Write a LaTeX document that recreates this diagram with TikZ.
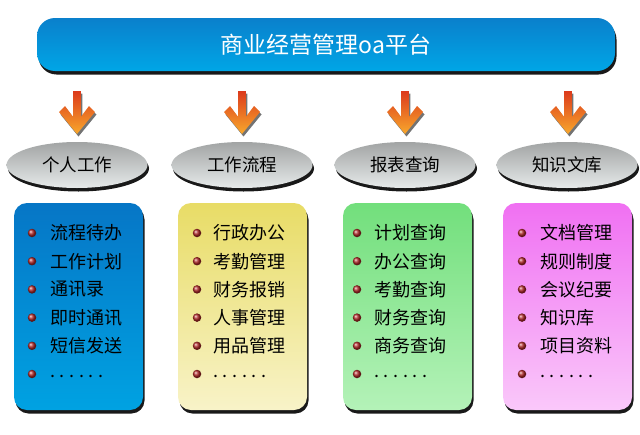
\documentclass[tikz,border=0pt]{standalone}
\usepackage{fontspec}
\newfontfamily\cjk{Noto Sans CJK SC}
\usetikzlibrary{shapes.geometric,shadows}
\definecolor{bartop}{HTML}{0A80CC}
\definecolor{barbot}{HTML}{00A6E6}
\definecolor{bluetop}{HTML}{0676C6}
\definecolor{bluebot}{HTML}{00A2E2}
\definecolor{yeltop}{HTML}{E8DC66}
\definecolor{yelbot}{HTML}{F8F3C8}
\definecolor{grntop}{HTML}{72DF7C}
\definecolor{grnbot}{HTML}{B4F2B8}
\definecolor{pnktop}{HTML}{F070F2}
\definecolor{pnkbot}{HTML}{FAC8FA}
\definecolor{elltop}{HTML}{A2A4A4}
\definecolor{ellbot}{HTML}{E6EAEA}
\definecolor{arrtop}{HTML}{DC3A1C}
\definecolor{arrbot}{HTML}{F8A82C}
\definecolor{balldark}{HTML}{B02828}
\begin{document}
\begin{tikzpicture}[x=1pt,y=-1pt,
  hardshadow/.style={drop shadow={shadow xshift=1.5pt,shadow yshift=-3.5pt,fill=black,opacity=0.9}},
  titlebar/.style={rounded corners=18pt,minimum width=578pt,minimum height=53pt,inner sep=0pt,
    top color=bartop,bottom color=barbot,hardshadow,text=white,font=\cjk\fontsize{23}{23}\selectfont},
  catell/.style={ellipse,minimum width=141pt,minimum height=46pt,inner sep=0pt,
    top color=elltop,bottom color=ellbot,hardshadow,font=\cjk\fontsize{17.5}{17.5}\selectfont},
  listbox/.style={rounded corners=13pt,minimum width=129pt,minimum height=207pt,inner sep=0pt,hardshadow},
  bulletdot/.style={circle,minimum size=8.5pt,inner sep=0pt,shading=ball,ball color=balldark},
  itemtext/.style={anchor=west,inner sep=0pt,font=\cjk\fontsize{18}{18}\selectfont},
  dotsfont/.style={anchor=west,inner sep=0pt,font=\cjk\fontsize{18}{18}\selectfont\addfontfeature{LetterSpace=26}},
  downarrow/.style={top color=arrtop,bottom color=arrbot,drop shadow={shadow xshift=1.5pt,shadow yshift=-2.5pt,fill=black,opacity=0.55}}
]
\useasboundingbox (0,0) rectangle (640,434);

% title bar
\node[titlebar] (top) at (326,44.5) {商业经营管理oa平台};

% arrows
\foreach \cx/\nm in {77/a,242/b,405/c,568/d}{
  \coordinate (arr\nm) at (\cx,91);
  \shade[downarrow] (\cx-3.8,91) -- (\cx+3.8,91) -- (\cx+3.8,117) -- (\cx+12,106) -- (\cx+18,112)
     -- (\cx,134) -- (\cx-18,112) -- (\cx-12,106) -- (\cx-3.8,117) -- cycle;
}

% category ellipses
\node[catell] (e1) at (77,165) {个人工作};
\node[catell] (e2) at (242,165) {工作流程};
\node[catell] (e3) at (405,165) {报表查询};
\node[catell] (e4) at (567,165) {知识文库};

% list boxes
\node[listbox,top color=bluetop,bottom color=bluebot] (b1) at (78.5,306.5) {};
\node[listbox,top color=yeltop,bottom color=yelbot] (b2) at (242.5,306.5) {};
\node[listbox,top color=grntop,bottom color=grnbot] (b3) at (407.5,306.5) {};
\node[listbox,top color=pnktop,bottom color=pnkbot] (b4) at (567.5,306.5) {};

% list items
\foreach \bx/\tx/\nm/\la/\lb/\lc/\ld/\le in {
  32/50/p/流程待办/工作计划/通讯录/即时通讯/短信发送,
  197/213/q/行政办公/考勤管理/财务报销/人事管理/用品管理,
  357/374/r/计划查询/办公查询/考勤查询/财务查询/商务查询,
  522/540/s/文档管理/规则制度/会议纪要/知识库/项目资料}{
  \foreach \i/\t in {1/\la,2/\lb,3/\lc,4/\ld,5/\le}{
    \node[bulletdot] (\nm d\i) at (\bx,{233+28.2*(\i-1)}) {};
    \node[itemtext] (\nm t\i) at (\tx,{233+28.2*(\i-1)}) {\t};
  }
  \node[bulletdot] (\nm d6) at (\bx,374) {};
  \node[dotsfont] (\nm t6) at (\tx,376) {......};
}
\end{tikzpicture}
\end{document}
